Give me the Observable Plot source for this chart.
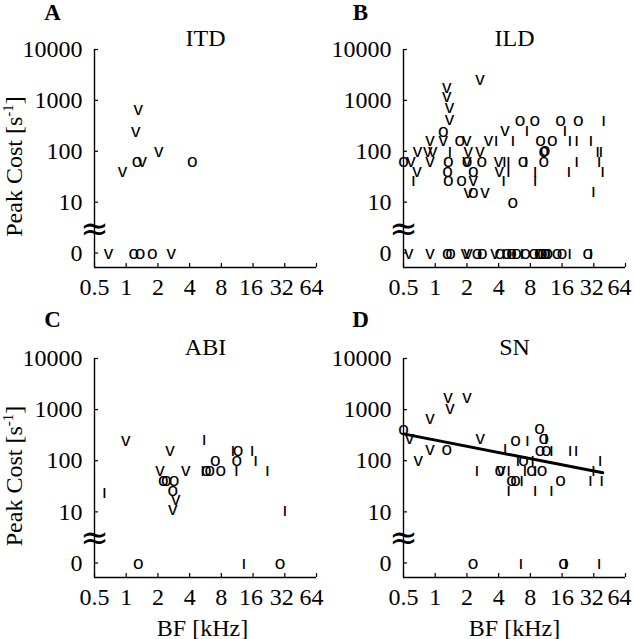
<!DOCTYPE html>
<html><head><meta charset="utf-8">
<script src="https://cdn.jsdelivr.net/npm/d3@7"></script>
<script src="https://cdn.jsdelivr.net/npm/@observablehq/plot@0.6"></script>
<style>
body{margin:0;background:#fff;}
#wrap{position:relative;width:634px;height:639px;overflow:hidden;background:#fff;}
#wrap svg{position:absolute;overflow:visible;}
</style></head><body><div id="wrap"></div>
<script>
// ---- axis / label data ----
const xTicks = [0.5, 1, 2, 4, 8, 16, 32, 64];
const yTicks = [1, 10, 100, 1000, 10000];          // 1 is where a cost of 0 is shown
const yTickLabels = ["0", "10", "100", "1000", "10000"];
const panelLetters = ["A", "B", "C", "D"];
const panelTitles = ["ITD", "ILD", "ABI", "SN"];
const yLabel = "Peak Cost [s-1]";
const xLabel = "BF [kHz]";
const glyph = {v: "v", o: "o", i: "ı"};

// ---- ITD ----
const itdBF   = [0.92, 1.23, 1.30, 1.42, 2.04, 0.68, 2.67, 1.27, 4.24, 1.18, 1.35, 1.77];
const itdCost = [42, 257, 665, 66, 104, 0, 0, 66, 66, 0, 0, 0];
const itdMark = ["v","v","v","v","v","v","v","o","o","o","o","o"];

// ---- ILD ----
const ildBF = [
  2.66,1.29,1.29,1.37,1.37,4.6,0.89,1.19,1.99,3.2,0.68,0.85,0.95,2.06,2.66,0.59,0.89,2.0,3.98,0.67,4.05,2.3,2.06,2.97,
  0.56,0.89,1.94,2.05,3.7,
  1.19,6.4,8.8,15.5,22.8,1.71,10,12.9,10.7,11.0,0.5,1.33,2.0,2.77,6.8,10.7,1.31,2.3,1.33,1.78,2.3,5.46,
  1.3,1.4,2.5,2.8,4.1,4.8,5.3,5.9,7.2,8.6,9.7,10.4,11.0,11.7,14.3,16,28,
  7.4,17,39.6,3.78,5.46,19,22,30,1.38,34.8,37.3,4.54,4.96,7.3,22,36,4.96,8.9,18.6,38.8,0.62,4.45,8.9,31.8,
  2.65,4.45,5.0,5.6,6.65,9.2,12,18.9,30];
const ildCost = [
  2690,1830,1200,730,440,265,164,164,164,164,104,104,104,104,104,66,66,66,66,42,42,27,16,16,
  0,0,0,0,0,
  257,420,420,420,420,164,164,164,104,108,66,66,66,66,66,66,42,42,27,27,16,10,
  0,0,0,0,0,0,0,0,0,0,0,0,0,0,0,0,0,
  265,265,420,164,164,164,164,164,104,104,104,66,66,66,66,66,42,42,42,42,27,27,27,17,
  0,0,0,0,0,0,0,0,0];
const ildMark = [
  ...Array(24).fill("v"), ...Array(5).fill("v"),
  ...Array(22).fill("o"), ...Array(17).fill("o"),
  ...Array(24).fill("i"), ...Array(9).fill("i")];

// ---- ABI ----
const abiBF = [0.62,5.5,5.3,10.3,11.1,15.7,16.9,21.9,32,13.1,
  0.99,2.6,2.09,3.68,2.96,2.77,
  2.25,2.4,2.85,2.77,5.75,6.2,7.0,7.9,11.5,11.2,1.3,28.8];
const abiCost = [25,265,67,166,65,166,105,67,11,0,
  260,166,67,67,18,11.5,
  42,42,42,27,67,67,104,67,166,104,0,0];
const abiMark = [...Array(10).fill("i"), ...Array(6).fill("v"), ...Array(12).fill("o")];

// ---- SN ----
const snBF = [0.5,1.29,4.1,5.3,5.8,5.8,6.9,8.2,10.3,9.8,10.7,9.9,11.3,15.5,2.28,16.5,
  0.57,0.69,0.89,0.89,1.32,1.38,2.0,2.68,4.2,
  2.49,4.6,4.97,6.6,4.97,7.5,6.1,8.4,7.1,8.9,8.9,11.3,12.7,12.7,19.1,21.8,31.7,29.7,36.8,38,6.5,17.4,36];
const snCost = [427,170,67,42,42,260,105,67,67,440,275,166,166,42,0,0,
  280,105,173,690,1770,1090,1770,280,67,
  67,180,67,42,27,260,105,105,67,67,27,275,166,27,166,166,67,42,105,42,0,0,0];
const snMark = [...Array(16).fill("o"), ...Array(9).fill("v"), ...Array(23).fill("i")];
const snFitBF = [0.5, 39];
const snFitCost = [335, 58];

const panels = [
  {bf: itdBF, cost: itdCost, mark: itdMark},
  {bf: ildBF, cost: ildCost, mark: ildMark},
  {bf: abiBF, cost: abiCost, mark: abiMark},
  {bf: snBF, cost: snCost, mark: snMark, fit: {bf: snFitBF, cost: snFitCost}}
];

const wrap = document.getElementById("wrap");
const yLo = 0.52;
const serif = "Liberation Serif";
const sans = "Liberation Sans";
const FS = 24;
// small horizontal nudges of the x tick labels (left column, right column)
const xLabelNudge = [[0,0,0,0,0,-2,-3,-5], [0,0,0,0,0,0,-2,-6]];

panels.forEach((p, i) => {
  const top = i < 2;
  const left = i % 2 === 0;
  const W = 317, H = top ? 310 : 329;
  const mL = left ? 94 : 86;
  const innerW = 222;
  const mR = W - mL - innerW;
  const mT = top ? 49 : 48;
  const mB = top ? 43 : 62;
  const innerH = H - mT - mB;
  const data = p.bf.map((f, j) => ({bf: f, cost: p.cost[j], mark: p.mark[j]}));
  const axisFont = {fontSize: FS, fontFamily: serif};
  const nudge = xLabelNudge[left ? 0 : 1];
  const marks = [
    Plot.ruleX([0.5], {y1: yLo, y2: 10000, strokeWidth: 1.4}),
    Plot.ruleY([yLo], {x1: 0.5, x2: 64, strokeWidth: 1.4}),
    Plot.tickX(xTicks, {x: d => d, insetTop: innerH - 4, strokeWidth: 1.2}),
    Plot.tickY(yTicks, {y: d => d, insetRight: innerW - 4, strokeWidth: 1.2}),
    ...xTicks.map((t, k) => Plot.axisX({ticks: [t], tickSize: 0, tickPadding: 10, dx: nudge[k],
      tickFormat: d => String(d), label: null, ...axisFont})),
    Plot.axisY({ticks: yTicks, tickSize: 0, tickPadding: 12,
      tickFormat: d => yTickLabels[yTicks.indexOf(d)], label: null, ...axisFont}),
    Plot.text(["≈"], {x: () => 0.5, y: () => 3, fontSize: 34, fontFamily: "DejaVu Sans"}),
    Plot.text(data, {x: "bf", y: d => d.cost === 0 ? 1 : d.cost, text: d => glyph[d.mark],
      fontSize: 19, fontFamily: sans, fill: "black"}),
    Plot.text([panelTitles[i]], {frameAnchor: "top", lineAnchor: "bottom", dy: -4, fontSize: FS, fontFamily: serif}),
    Plot.text([panelLetters[i]], {frameAnchor: "top-left", lineAnchor: "bottom", textAnchor: "middle",
      dx: left ? -42 : -43, dy: top ? -30 : -32, fontSize: 23, fontWeight: "bold", fontFamily: serif})
  ];
  if (p.fit) {
    const fitData = p.fit.bf.map((f, j) => ({bf: f, cost: p.fit.cost[j]}));
    marks.push(Plot.line(fitData, {x: "bf", y: "cost", strokeWidth: 3, stroke: "black"}));
  }
  if (left) {
    marks.push(Plot.text([yLabel], {frameAnchor: "left", textAnchor: "middle", lineAnchor: "middle",
      rotate: -90, dx: -80, dy: 8, fontSize: FS, fontFamily: serif}));
  }
  if (!top) {
    marks.push(Plot.text([xLabel], {frameAnchor: "bottom", lineAnchor: "bottom", dy: 58, dx: left ? -3 : 0,
      fontSize: FS, fontFamily: serif}));
  }
  const svg = Plot.plot({
    width: W, height: H,
    marginLeft: mL, marginRight: mR, marginTop: mT, marginBottom: mB,
    x: {type: "log", base: 2, domain: [0.5, 64]},
    y: {type: "log", domain: [yLo, 10000]},
    style: {fontFamily: serif, fontSize: "24px", color: "black", background: "transparent", overflow: "visible"},
    marks
  });
  svg.style.left = (left ? 0 : 317) + "px";
  svg.style.top = (top ? 0 : 310) + "px";
  svg.querySelectorAll("text").forEach(t => {
    if (t.textContent === yLabel) {
      t.innerHTML = 'Peak Cost [s<tspan dy="-9" font-size="15">-1</tspan><tspan dy="9">]</tspan>';
    }
  });
  wrap.appendChild(svg);
});
</script>
</body></html>
